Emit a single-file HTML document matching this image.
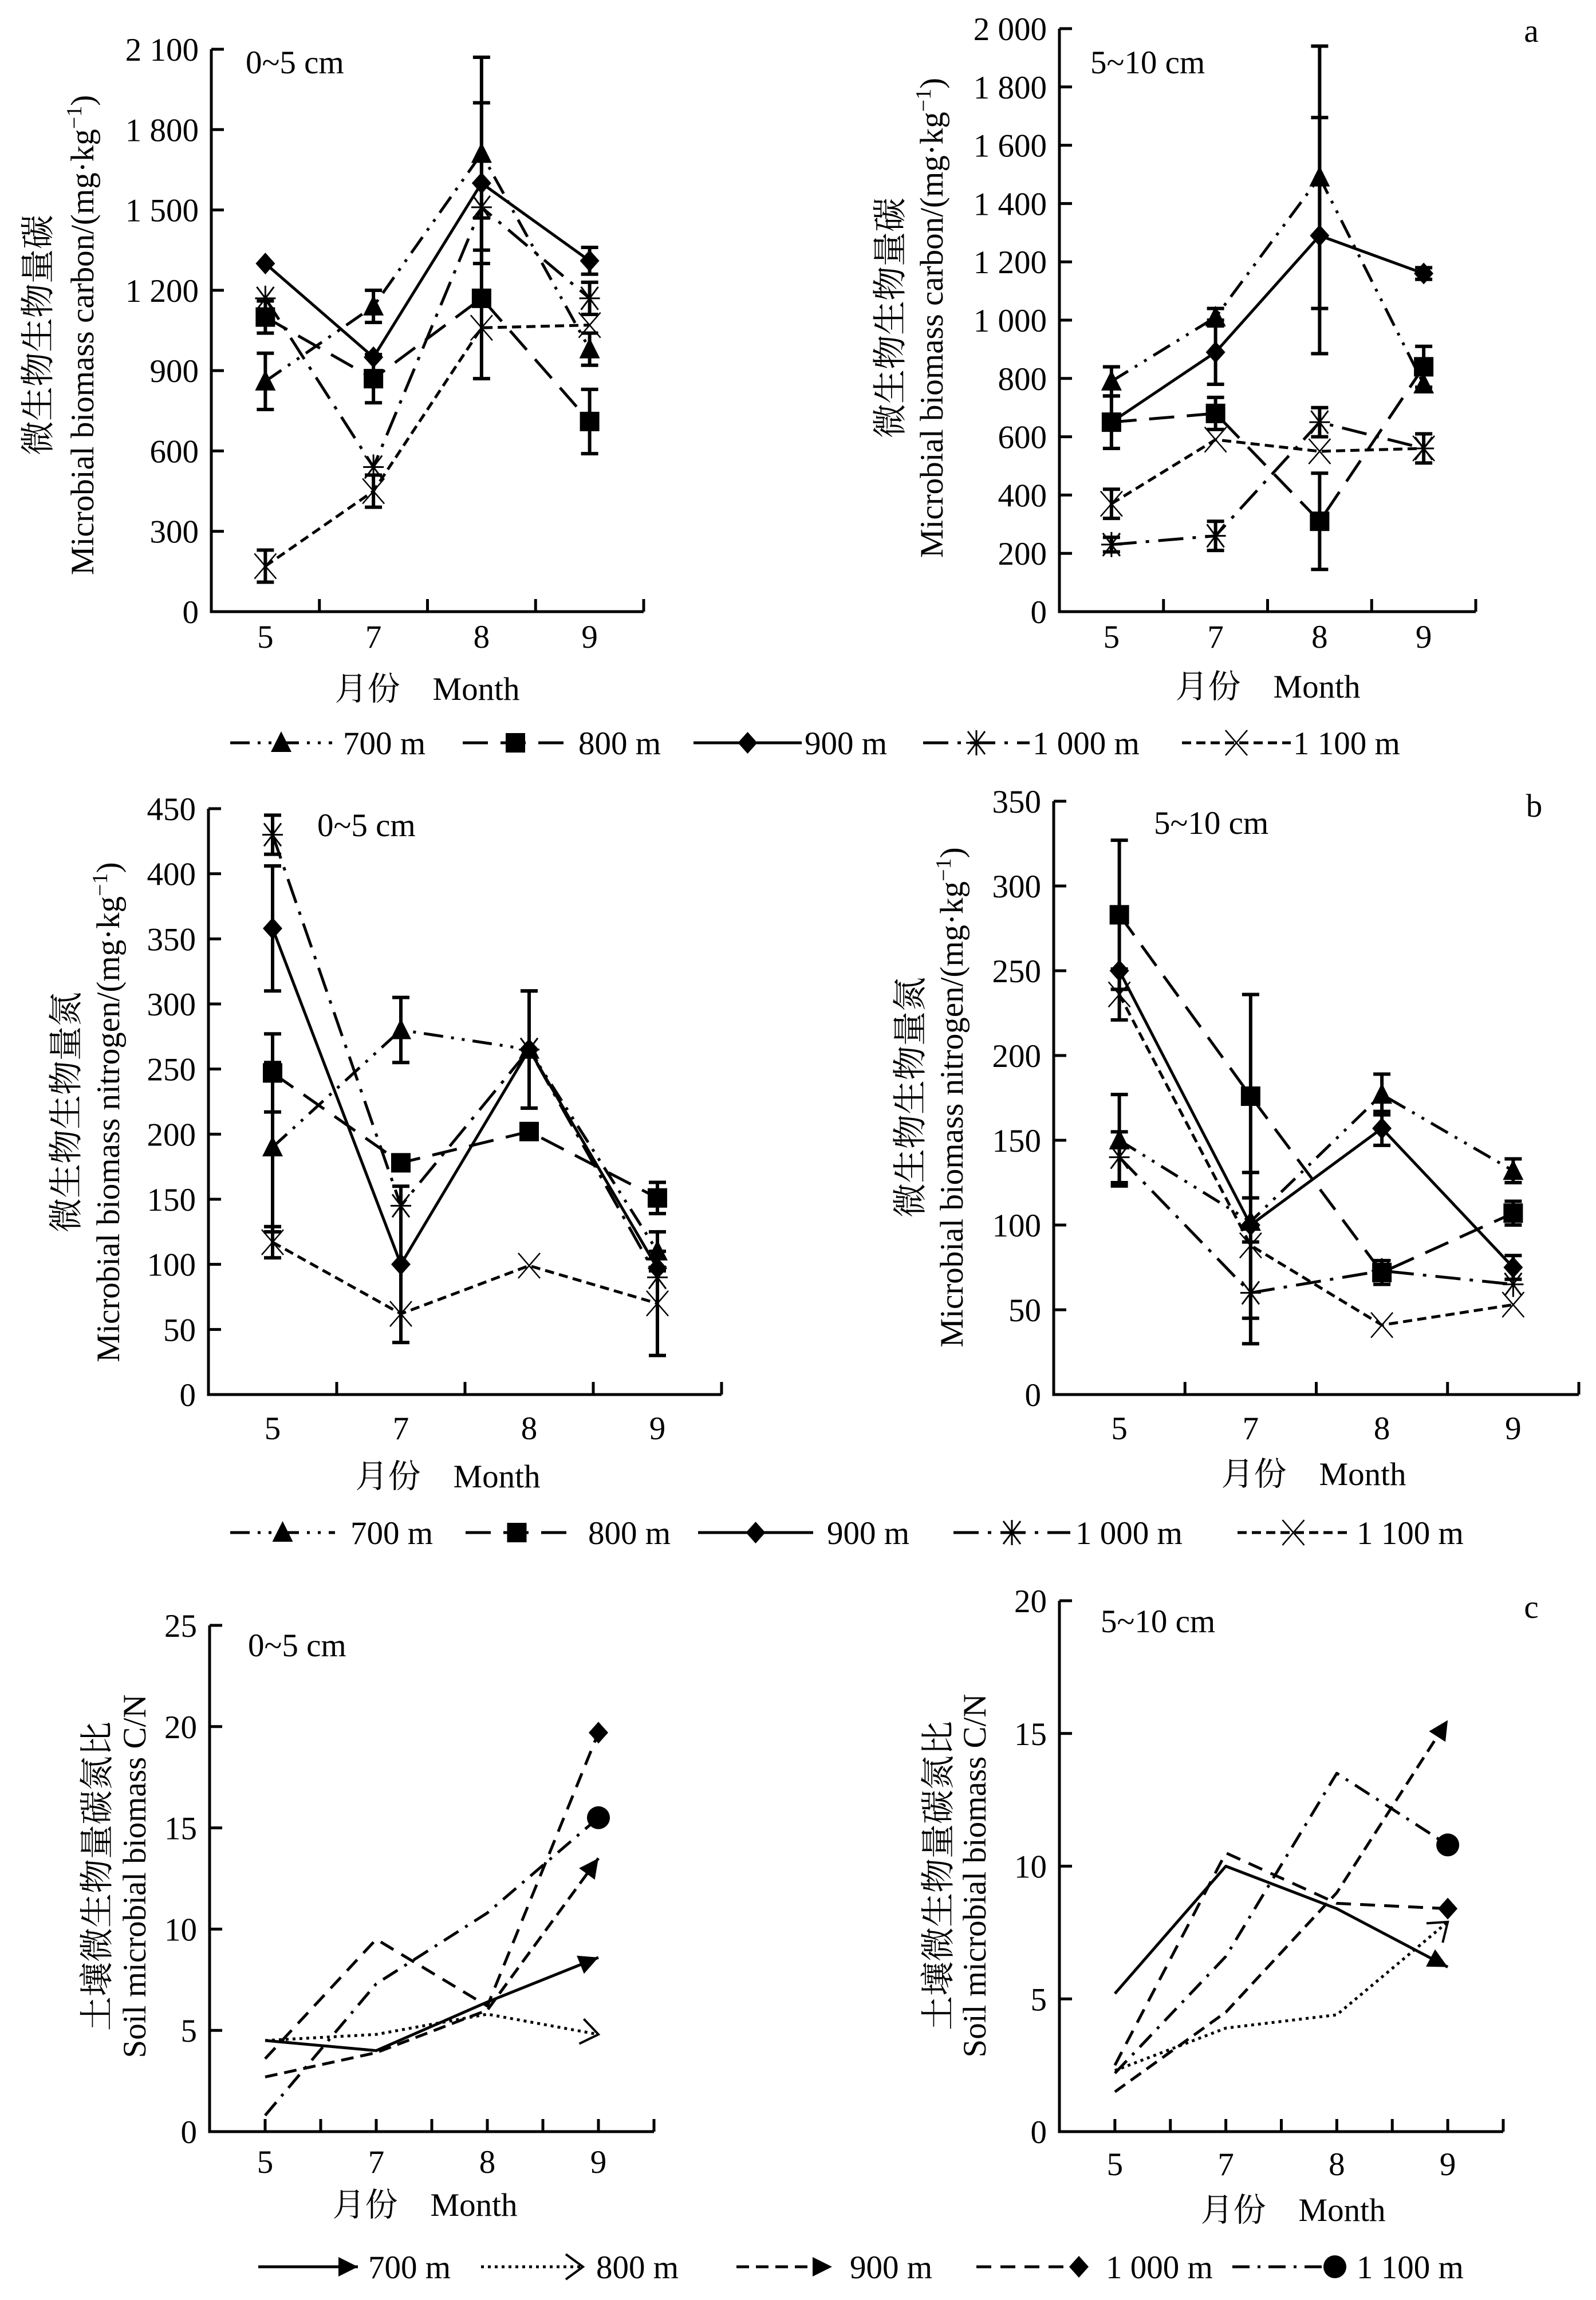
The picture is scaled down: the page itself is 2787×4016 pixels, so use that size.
<!DOCTYPE html>
<html><head><meta charset="utf-8">
<style>
html,body{margin:0;padding:0;background:#fff;}
svg{display:block;}
text{font-family:"Liberation Serif","Noto Serif CJK SC",serif;fill:#000;}
</style></head>
<body>
<svg id="fig" xmlns="http://www.w3.org/2000/svg" width="2787" height="4016" viewBox="0 0 2787 4016"></svg>
<script>
// ---------- data ----------
const months = ['5','7','8','9'];
const seriesNames = ['700 m','800 m','900 m','1 000 m','1 100 m'];

// Panel a (carbon) 0~5 cm
const aL_700 = [860,1140,1710,980];   const aL_700e = [105,60,360,60];
const aL_800 = [1100,870,1170,710];   const aL_800e = [60,90,300,120];
const aL_900 = [1300,950,1600,1310];  const aL_900e = [0,0,300,50];
const aL_1000 = [1170,540,1510,1170]; const aL_1000e = [0,0,0,60];
const aL_1100 = [170,450,1060,1070];  const aL_1100e = [60,60,0,0];
const aL_ticks = [0,300,600,900,1200,1500,1800,2100];
const aL_tickLabels = ['0','300','600','900','1 200','1 500','1 800','2 100'];
// Panel a 5~10 cm
const aR_700 = [790,1010,1490,780];   const aR_700e = [50,30,450,0];
const aR_800 = [650,680,310,840];     const aR_800e = [90,55,165,70];
const aR_900 = [650,890,1290,1160];   const aR_900e = [0,110,405,20];
const aR_1000 = [230,260,650,560];    const aR_1000e = [25,50,50,0];
const aR_1100 = [370,590,550,560];    const aR_1100e = [50,0,0,50];
const aR_ticks = [0,200,400,600,800,1000,1200,1400,1600,1800,2000];
const aR_tickLabels = ['0','200','400','600','800','1 000','1 200','1 400','1 600','1 800','2 000'];
// Panel b (nitrogen) 0~5 cm
const bL_700 = [190,280,265,110];     const bL_700e = [65,25,0,15];
const bL_800 = [247,178,202,151];     const bL_800e = [30,0,0,12];
const bL_900 = [358,100,265,97];      const bL_900e = [48,60,45,0];
const bL_1000 = [430,145,265,90];     const bL_1000e = [15,0,45,0];
const bL_1100 = [117,62,99,70];       const bL_1100e = [12,0,0,40];
const bL_ticks = [0,50,100,150,200,250,300,350,400,450];
const bL_tickLabels = ['0','50','100','150','200','250','300','350','400','450'];
// Panel b 5~10 cm
const bR_700 = [150,102,177,132];     const bR_700e = [27,0,12,7];
const bR_800 = [283,176,72,107];      const bR_800e = [44,60,7,7];
const bR_900 = [250,100,157,75];      const bR_900e = [0,0,10,7];
const bR_1000 = [140,60,73,65];       const bR_1000e = [15,30,0,0];
const bR_1100 = [236,88,41,53];       const bR_1100e = [15,43,0,0];
const bR_ticks = [0,50,100,150,200,250,300,350];
const bR_tickLabels = ['0','50','100','150','200','250','300','350'];
// Panel c (C/N) 0~5 cm
const cL_700 = [4.5,4.0,6.4,8.6];
const cL_800 = [4.5,4.8,5.8,4.8];
const cL_900 = [2.7,3.9,6.0,13.5];
const cL_1000 = [3.6,9.5,6.2,19.7];
const cL_1100 = [0.8,7.3,10.8,15.5];
const cL_ticks = [0,5,10,15,20,25];
const cL_tickLabels = ['0','5','10','15','20','25'];
// Panel c 5~10 cm
const cR_700 = [5.2,10.0,8.4,6.2];
const cR_800 = [2.3,3.9,4.4,7.9];
const cR_900 = [1.5,4.5,9.0,15.5];
const cR_1000 = [2.5,10.5,8.6,8.4];
const cR_1100 = [2.2,6.6,13.5,10.8];
const cR_ticks = [0,5,10,15,20];
const cR_tickLabels = ['0','5','10','15','20'];

// ---------- drawing ----------
const NS = 'http://www.w3.org/2000/svg';
const svg = document.getElementById('fig');
function mk(tag, attrs, parent){
  const e = document.createElementNS(NS, tag);
  for (const k in attrs) e.setAttribute(k, attrs[k]);
  (parent||svg).appendChild(e);
  return e;
}
const FS = 57;
const dashAB = ['34 14 5 14 5 14','44 22','none','44 16 6 16','16 9'];
const dashC = ['none','5 7','22 12','26 16','30 14 5 14'];
const markAB = ['tri','sq','dia','ast','x'];
const markC = ['arrow','open','arrow','dia','circ'];

function marker(g, type, cx, cy, ang){
  let e;
  if (type==='tri'){ e = mk('polygon',{points:`${cx},${cy-20} ${cx-18},${cy+16} ${cx+18},${cy+16}`,fill:'#000'},g); }
  else if (type==='sq'){ e = mk('rect',{x:cx-17,y:cy-17,width:34,height:34,fill:'#000'},g); }
  else if (type==='dia'){ e = mk('polygon',{points:`${cx},${cy-19} ${cx+17},${cy} ${cx},${cy+19} ${cx-17},${cy}`,fill:'#000'},g); }
  else if (type==='circ'){ e = mk('circle',{cx:cx,cy:cy,r:20,fill:'#000'},g); }
  else if (type==='ast'){ e = mk('path',{d:`M${cx-15},${cy-20}L${cx+15},${cy+20}M${cx+15},${cy-20}L${cx-15},${cy+20}M${cx},${cy-22}L${cx},${cy+22}M${cx-18},${cy}L${cx+18},${cy}`,stroke:'#000','stroke-width':3,fill:'none'},g); }
  else if (type==='x'){ e = mk('path',{d:`M${cx-19},${cy-22}L${cx+19},${cy+22}M${cx+19},${cy-22}L${cx-19},${cy+22}`,stroke:'#000','stroke-width':2.5,fill:'none'},g); }
  else if (type==='arrow' || type==='open'){
    const a = ang||0, c=Math.cos(a), s=Math.sin(a);
    const pt=(u,v)=>`${cx+u*c-v*s},${cy+u*s+v*c}`;
    if (type==='arrow') e = mk('polygon',{points:`${pt(0,0)} ${pt(-34,-17)} ${pt(-34,17)}`,fill:'#000'},g);
    else e = mk('polyline',{points:`${pt(-30,-22)} ${pt(0,0)} ${pt(-30,22)}`,fill:'none',stroke:'#000','stroke-width':4},g);
  }
  return e;
}

function drawPanel(p){
  const g = mk('g',{});
  
  
  const ymax = p.ticks[p.ticks.length-1];
  const y = v => p.y0 - v/ymax*(p.y0-p.yTop);
  const W = p.x1-p.x0;
  const x = i => p.band ? p.x0 + (i+0.5)*W/4 : p.x0 + (2*i+1)*W/8;
  const ax = mk('path',{d:`M${p.x0},${p.yTop}L${p.x0},${p.y0}L${p.x1},${p.y0}`,stroke:'#000','stroke-width':5,fill:'none'},g);
  
  
  p.ticks.forEach((t,k)=>{
    const yy = y(t);
    const tk = mk('line',{x1:p.x0,y1:yy,x2:p.x0+22,y2:yy,stroke:'#000','stroke-width':5},g);
    
    
    const tl = mk('text',{x:p.x0-22,y:yy+20,'text-anchor':'end','font-size':FS},g);
    tl.textContent = p.tickLabels[k];
    
    
  });
  const nt = p.band ? 4 : 8;
  for (let k=1;k<=nt;k++){
    const xx = p.x0 + k*W/nt;
    const tk = mk('line',{x1:xx,y1:p.y0,x2:xx,y2:p.y0-22,stroke:'#000','stroke-width':5},g);
    
    
  }
  months.forEach((m,i)=>{
    const tl = mk('text',{x:x(i),y:p.catY+20,'text-anchor':'middle','font-size':FS},g);
    tl.textContent = m;
    
    
  });
  const xt = mk('text',{x:p.xtX,y:p.xtY+20,'text-anchor':'middle','font-size':FS},g);
  xt.textContent = '月份\u2003Month';
  
  
  const yt1 = mk('text',{x:0,y:0,'text-anchor':'middle','font-size':60,transform:`translate(${p.yt1X+20},${p.ytY}) rotate(-90)`},g);
  yt1.textContent = p.ytCN;
  
  
  const yt2 = mk('text',{x:0,y:0,'text-anchor':'middle','font-size':FS,transform:`translate(${p.yt2X+20},${p.ytY}) rotate(-90)`},g);
  
  
  if (p.unit){
    const t1 = mk('tspan',{},yt2); t1.textContent = p.ytEN + '/(mg·kg';
    const t2 = mk('tspan',{'baseline-shift':'super','font-size':38},yt2); t2.textContent = '−1';
    const t3 = mk('tspan',{},yt2); t3.textContent = ')';
  } else yt2.textContent = p.ytEN;
  const dl = mk('text',{x:p.depX,y:p.depY+20,'font-size':FS},g);
  dl.textContent = p.depth;
  
  
  if (p.letter){
    const lt = mk('text',{x:p.letX,y:p.letY+20,'text-anchor':'middle','font-size':FS},g);
    lt.textContent = p.letter;
    
    
  }
  p.series.forEach((vals,si)=>{
    const sg = mk('g',{},g);
    
    
    const dash = p.band ? dashAB[si] : dashC[si];
    const pts = vals.map((v,i)=>`${x(i)},${y(v)}`).join(' ');
    const ln = mk('polyline',{points:pts,fill:'none',stroke:'#000','stroke-width':5,'stroke-dasharray':dash,'stroke-linejoin':'round'},sg);
    
    
    if (p.band){
      const errs = p.errs[si];
      vals.forEach((v,i)=>{
        if (errs[i]>0){
          const xx=x(i), y1=y(v+errs[i]), y2=y(v-errs[i]);
          const eb = mk('path',{d:`M${xx},${y1}L${xx},${y2}M${xx-15},${y1}L${xx+15},${y1}M${xx-15},${y2}L${xx+15},${y2}`,stroke:'#000','stroke-width':6,fill:'none'},sg);
          
          
        }
        const mkk = marker(sg, markAB[si], x(i), y(v));
        
        
      });
    } else {
      const n = vals.length-1;
      const ang = Math.atan2(y(vals[n])-y(vals[n-1]), x(n)-x(n-1));
      const mkk = marker(sg, markC[si], x(n), y(vals[n]), ang);
      
      
    }
  });
}

function drawLegend(items, yC, band){
  const g = mk('g',{});
  
  
  items.forEach((it,si)=>{
    const eg = mk('g',{},g);
    
    
    const dash = band ? dashAB[si] : dashC[si];
    const ln = mk('line',{x1:it[0],y1:yC,x2:it[1],y2:yC,stroke:'#000','stroke-width':5,'stroke-dasharray':dash},eg);
    
    
    let m;
    if (band) m = marker(eg, markAB[si], (it[0]+it[1])/2, yC);
    else m = marker(eg, markC[si], it[1]-(markC[si]==='dia'||markC[si]==='circ'?20:0), yC, 0);
    
    
    const t = mk('text',{x:it[2],y:yC+20,'font-size':FS},eg);
    t.textContent = seriesNames[si];
    
    
  });
}

drawPanel({name:'panel-a-0-5cm',band:true,x0:369,x1:1124,yTop:86,y0:1068,ticks:aL_ticks,tickLabels:aL_tickLabels,
  series:[aL_700,aL_800,aL_900,aL_1000,aL_1100],errs:[aL_700e,aL_800e,aL_900e,aL_1000e,aL_1100e],
  catY:1111,xtX:746,xtY:1202,yt1X:67,yt2X:143,ytY:585,ytCN:'微生物生物量碳',ytEN:'Microbial biomass carbon',unit:true,
  depth:'0~5 cm',depX:429,depY:108});
drawPanel({name:'panel-a-5-10cm',band:true,x0:1850,x1:2577,yTop:50,y0:1068,ticks:aR_ticks,tickLabels:aR_tickLabels,
  series:[aR_700,aR_800,aR_900,aR_1000,aR_1100],errs:[aR_700e,aR_800e,aR_900e,aR_1000e,aR_1100e],
  catY:1111,xtX:2214,xtY:1198,yt1X:1555,yt2X:1626,ytY:555,ytCN:'微生物生物量碳',ytEN:'Microbial biomass carbon',unit:true,
  depth:'5~10 cm',depX:1904,depY:108,letter:'a',letX:2674,letY:53});
drawLegend([[402,580,599],[808,992,1010],[1211,1400,1405],[1612,1798,1803],[2064,2254,2258]],1297,true);

drawPanel({name:'panel-b-0-5cm',band:true,x0:364,x1:1260,yTop:1412,y0:2435,ticks:bL_ticks,tickLabels:bL_tickLabels,
  series:[bL_700,bL_800,bL_900,bL_1000,bL_1100],errs:[bL_700e,bL_800e,bL_900e,bL_1000e,bL_1100e],
  catY:2493,xtX:782,xtY:2577,yt1X:116,yt2X:188,ytY:1942,ytCN:'微生物生物量氮',ytEN:'Microbial biomass nitrogen',unit:true,
  depth:'0~5 cm',depX:554,depY:1440});
drawPanel({name:'panel-b-5-10cm',band:true,x0:1840,x1:2757,yTop:1399,y0:2435,ticks:bR_ticks,tickLabels:bR_tickLabels,
  series:[bR_700,bR_800,bR_900,bR_1000,bR_1100],errs:[bR_700e,bR_800e,bR_900e,bR_1000e,bR_1100e],
  catY:2493,xtX:2294,xtY:2573,yt1X:1590,yt2X:1661,ytY:1916,ytCN:'微生物生物量氮',ytEN:'Microbial biomass nitrogen',unit:true,
  depth:'5~10 cm',depX:2015,depY:1436,letter:'b',letX:2679,letY:1406});
drawLegend([[402,585,612],[813,992,1027],[1219,1420,1444],[1665,1869,1878],[2161,2356,2369]],2676,true);

drawPanel({name:'panel-c-0-5cm',band:false,x0:366,x1:1142,yTop:2838,y0:3722,ticks:cL_ticks,tickLabels:cL_tickLabels,
  series:[cL_700,cL_800,cL_900,cL_1000,cL_1100],
  catY:3774,xtX:742,xtY:3849,yt1X:170,yt2X:234,ytY:3276,ytCN:'土壤微生物量碳氮比',ytEN:'Soil microbial biomass C/N',unit:false,
  depth:'0~5 cm',depX:433,depY:2872});
drawPanel({name:'panel-c-5-10cm',band:false,x0:1850,x1:2625,yTop:2795,y0:3722,ticks:cR_ticks,tickLabels:cR_tickLabels,
  series:[cR_700,cR_800,cR_900,cR_1000,cR_1100],
  catY:3778,xtX:2258,xtY:3858,yt1X:1639,yt2X:1701,ytY:3275,ytCN:'土壤微生物量碳氮比',ytEN:'Soil microbial biomass C/N',unit:false,
  depth:'5~10 cm',depX:1922,depY:2830,letter:'c',letX:2674,letY:2805});
drawLegend([[451,625,643],[840,1018,1041],[1286,1453,1484],[1705,1904,1931],[2152,2351,2369]],3958,false);
</script>
</body></html>
